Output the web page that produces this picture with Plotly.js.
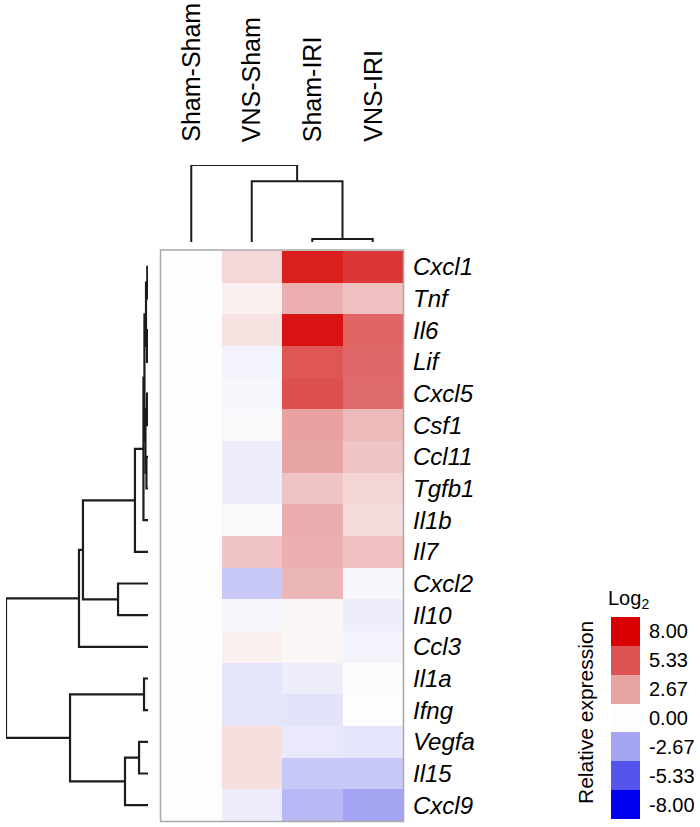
<!DOCTYPE html>
<html><head><meta charset="utf-8">
<script src="https://cdn.plot.ly/plotly-3.0.1.min.js"></script>
<style>html,body{margin:0;padding:0;background:#fff}#chart{width:700px;height:827px}</style>
</head><body><div id="chart"></div>
<script>
const samples = ['Sham-Sham','VNS-Sham','Sham-IRI','VNS-IRI'];
const genes = ['Cxcl1','Tnf','Il6','Lif','Cxcl5','Csf1','Ccl11','Tgfb1','Il1b','Il7','Cxcl2','Il10','Ccl3','Il1a','Ifng','Vegfa','Il15','Cxcl9'];
const shamSham = [0,0,0,0,0,0,0,0,0,0,0,0,0,0,0,0,0,0];
const vnsSham  = [1.1,0.4,0.8,-0.3,-0.2,-0.1,-0.5,-0.5,-0.1,1.7,-1.6,-0.2,0.4,-0.7,-0.7,0.9,0.9,-0.5];
const shamIRI  = [7.0,2.3,7.4,5.2,5.4,2.7,2.6,1.7,2.4,2.3,2.1,0.2,0.2,-0.5,-0.8,-0.6,-1.6,-2.1];
const vnsIRI   = [6.2,1.8,4.7,4.6,4.5,2.0,1.7,1.2,1.0,1.8,-0.2,-0.5,-0.3,0.05,0,-0.75,-1.6,-2.7];
const legendValues = [8, 5.33, 2.67, 0, -2.67, -5.33, -8];
const legendLabels = ['8.00','5.33','2.67','0.00','-2.67','-5.33','-8.00'];
// linkage rows: [childA, childB, height]; leaves are 0..n-1, merged clusters numbered from n
const rowLinkage = [
 [0,1,0.005],[2,3,0.007],[4,5,0.007],[6,7,0.011],
 [18,19,0.014],[20,21,0.018],[22,23,0.025],[24,8,0.032],
 [25,9,0.092],[10,11,0.211],[26,27,0.458],[28,12,0.486],
 [13,14,0.028],[15,16,0.063],[31,17,0.162],[30,32,0.549],[29,33,1.0]
];
const colLinkage = [[2,3,0.04],[1,4,0.79],[0,5,1.0]];

const colorscale = [
 [0,'rgb(0,0,240)'],[1/6,'rgb(85,85,238)'],[2/6,'rgb(165,165,243)'],
 [0.5,'rgb(253,253,253)'],[4/6,'rgb(232,163,163)'],[5/6,'rgb(221,82,82)'],[1,'rgb(216,0,0)']
];

function dendro(linkage, n){
  const pos=[], hgt=[];
  for(let i=0;i<n;i++){pos.push(i);hgt.push(0);}
  const P=[], H=[];
  linkage.forEach(([a,b,h])=>{
    P.push(pos[a],pos[a],pos[b],pos[b],null);
    H.push(hgt[a],h,h,hgt[b],null);
    pos.push((pos[a]+pos[b])/2); hgt.push(h);
  });
  return {P,H};
}
const rd = dendro(rowLinkage, genes.length);
const cd = dendro(colLinkage, samples.length);

const W=700, Hh=827;
const px = v=>v/W, py = v=>1-v/Hh;
const FONT = 'Liberation Sans, Arial, sans-serif';

const z = genes.map((g,i)=>[shamSham[i],vnsSham[i],shamIRI[i],vnsIRI[i]]);
const traces = [
 {type:'heatmap', z:z, x:[0,1,2,3], y:genes.map((g,i)=>i), colorscale:colorscale, zmin:-8, zmax:8,
  showscale:false, xaxis:'x', yaxis:'y', hoverinfo:'none'},
 {type:'scatter', mode:'lines', x:rd.H, y:rd.P, xaxis:'x3', yaxis:'y',
  line:{color:'#1c1c1c', width:2.2}, hoverinfo:'none', showlegend:false},
 {type:'scatter', mode:'lines', x:cd.P, y:cd.H, xaxis:'x', yaxis:'y2',
  line:{color:'#1c1c1c', width:2}, hoverinfo:'none', showlegend:false},
 {type:'heatmap', z:legendValues.map(v=>[v]), x:[0], y:legendValues.map((v,i)=>i), colorscale:colorscale,
  zmin:-8, zmax:8, showscale:false, xaxis:'x4', yaxis:'y4', hoverinfo:'none'}
];

const annotations = samples.map((s,i)=>({
  x:i, xref:'x', y:py(144), yref:'paper', yanchor:'bottom', xanchor:'center',
  text:s, textangle:-90, showarrow:false, font:{family:FONT, size:25, color:'#000'}
}));
annotations.push({x:px(606), y:py(599), xref:'paper', yref:'paper', xanchor:'left', yanchor:'middle',
  text:'Log<sub>2</sub>', showarrow:false, font:{family:FONT, size:20, color:'#000'}});
annotations.push({x:px(585), y:py(713), xref:'paper', yref:'paper', xanchor:'center', yanchor:'middle',
  text:'Relative expression', textangle:-90, showarrow:false, font:{family:FONT, size:21, color:'#000'}});

const hidden = {visible:false, showgrid:false, zeroline:false, fixedrange:true};
const layout = {
  width:W, height:Hh, margin:{l:0,r:0,t:0,b:0}, paper_bgcolor:'#fff', plot_bgcolor:'rgba(0,0,0,0)',
  showlegend:false,
  xaxis:{domain:[px(161),px(403)], range:[-0.5,3.5], showgrid:false, zeroline:false, showticklabels:false, ticks:'', showline:false, anchor:'y'},
  yaxis:{domain:[py(821),py(251)], range:[17.5,-0.5], side:'right', anchor:'x', tickmode:'array',
    tickvals:genes.map((g,i)=>i), ticktext:genes, ticks:'', ticklen:0, ticklabelstandoff:9,
    tickfont:{family:FONT, size:24, style:'italic', color:'#000'}, showgrid:false, zeroline:false, showline:false},
  xaxis3:Object.assign({domain:[px(6),px(148)], range:[1,0], anchor:'y'}, hidden),
  yaxis2:Object.assign({domain:[py(242),py(165)], range:[0,1], anchor:'x'}, hidden),
  xaxis4:{domain:[px(611),px(640)], range:[-0.5,0.5], anchor:'y4', showgrid:false, zeroline:false, showticklabels:false, ticks:''},
  yaxis4:{domain:[py(819),py(617)], range:[6.5,-0.5], side:'right', anchor:'x4', tickmode:'array',
    tickvals:legendValues.map((v,i)=>i), ticktext:legendLabels, ticks:'', ticklen:0, ticklabelstandoff:8,
    tickfont:{family:FONT, size:20, color:'#000'}, showgrid:false, zeroline:false, showline:false},
  shapes:[{type:'rect', xref:'paper', yref:'paper', x0:px(160.5), x1:px(403.5), y0:py(821.5), y1:py(250),
    line:{color:'#a8a8a8', width:1.5}, fillcolor:'rgba(0,0,0,0)'}],
  annotations:annotations
};
Plotly.newPlot('chart', traces, layout, {staticPlot:true, displayModeBar:false});
</script></body></html>
